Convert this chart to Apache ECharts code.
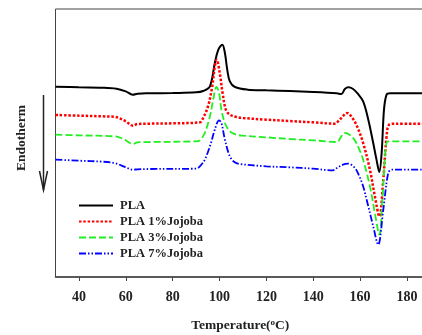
<!DOCTYPE html>
<html>
<head>
<meta charset="utf-8">
<script src="https://cdn.jsdelivr.net/npm/echarts@6/dist/echarts.min.js"></script>
<style>
  html, body { margin: 0; padding: 0; background: #fff; }
  #chart { width: 422px; height: 335px; }
</style>
</head>
<body>
<div id="chart"></div>
<script>
// DSC heating curves, [temperature, heat flow (arb. units, up = exo)]
const seriesNames = ['PLA', 'PLA 1%Jojoba', 'PLA 3%Jojoba', 'PLA 7%Jojoba']
const xTicks = [40, 60, 80, 100, 120, 140, 160, 180]

const pla = [
  [30, 571], [40, 569], [50, 568], [56, 565], [60, 557], [63, 547], [65, 550], [70, 551],
  [80, 552], [90, 554], [93, 558], [95.9, 572], [98, 642], [99.5, 682], [101.2, 697],
  [102.3, 672], [103.3, 622], [104.4, 587], [106.6, 570], [112, 562], [120, 560],
  [130, 558], [140, 555], [150, 551], [152, 549], [153.5, 564], [155, 569], [157, 564], [159, 550],
  [161.3, 527], [163.5, 472], [165.6, 402], [167, 352], [168.2, 315], [169.2, 373], [170.2, 502],
  [171.3, 547], [172.7, 551], [180, 551], [187.7, 551]
]
const pla1 = [
  [30, 486], [40, 484], [50, 482], [55, 481], [57, 477], [60, 467], [63, 454], [65, 459], [70, 460],
  [80, 461], [91.6, 464], [93, 477], [95.1, 512], [96.9, 572], [98, 632], [98.8, 652], [100.1, 612],
  [101.3, 552], [102.7, 502], [104.4, 487], [107.2, 480], [110, 477], [120, 472], [130, 468],
  [140, 464], [149.2, 460], [151.3, 472], [154.5, 492], [157, 474], [159, 447], [161.3, 402],
  [164.2, 322], [166.3, 242], [168.2, 182], [169.9, 292], [171.3, 422], [172.4, 457],
  [175, 460], [187.7, 460]
]
const pla3 = [
  [30, 427], [40, 425], [55, 422], [58, 417], [60, 410], [63, 399], [65, 404], [70, 405], [90, 407],
  [91.6, 410], [93.7, 432], [95.9, 482], [97.3, 532], [98.7, 570], [99.8, 552], [100.8, 502],
  [102.3, 462], [104.4, 437], [107.2, 427], [110, 424], [120, 419], [130, 414], [140, 410],
  [150.1, 405], [152, 422], [153.5, 432], [155.5, 427], [157.7, 410], [159.5, 385], [161.3, 352],
  [164.2, 272], [166.3, 192], [168.2, 127], [169.6, 242], [171, 392], [172, 407], [187.7, 407]
]
const pla7 = [
  [30, 352], [40, 349], [50, 346], [55, 342], [58, 335], [60, 329], [63, 322], [65, 323], [70, 324],
  [90, 325], [91.6, 332], [93.7, 352], [95.9, 392], [98, 442], [99.8, 470], [100.8, 462],
  [102.3, 412], [104.4, 362], [106.5, 344], [108.7, 339], [120, 332], [130, 329], [140, 325],
  [148.4, 320], [150.1, 327], [152.7, 337], [154.9, 340], [157.7, 328], [159.5, 305], [161.3, 272],
  [163.5, 212], [165.6, 152], [167.7, 97], [169.9, 202], [172, 312], [173.5, 322], [187.7, 322]
]

const serif = '"Liberation Serif", "Times New Roman", serif'

const line = (name, data, color, type, width) => ({
  name,
  type: 'line',
  data,
  symbol: 'none',
  smooth: 0.35,
  lineStyle: { color, type, width },
  itemStyle: { color }
})

const myChart = echarts.init(document.getElementById('chart'))
myChart.setOption({
  animation: false,
  grid: {
    left: 55.5, right: -3, top: 9, bottom: 58,
    outerBoundsMode: 'none',
    show: true, borderColor: '#444', borderWidth: 1
  },
  legend: {
    orient: 'vertical',
    left: 78, top: 199, padding: 0,
    itemWidth: 34, itemHeight: 12, itemGap: 3,
    itemStyle: { opacity: 0 },
    textStyle: { fontFamily: serif, fontWeight: 'bold', fontSize: 12.5, color: '#222', padding: [0, 0, 0, 2] },
    data: seriesNames
  },
  xAxis: {
    type: 'value',
    min: 30, max: 187.7,
    splitLine: { show: false },
    axisLine: { lineStyle: { color: '#444', width: 1.5 } },
    axisTick: { inside: false, length: 4, customValues: xTicks, lineStyle: { color: '#444' } },
    axisLabel: {
      customValues: xTicks, margin: 13,
      fontFamily: serif, fontWeight: 'bold', fontSize: 14, color: '#222'
    },
    name: 'Temperature({sup|o}C)',
    nameLocation: 'middle',
    nameGap: 41,
    nameTextStyle: {
      fontFamily: serif, fontWeight: 'bold', fontSize: 13.5, color: '#222',
      rich: { sup: { fontFamily: serif, fontWeight: 'bold', fontSize: 9, color: '#222', verticalAlign: 'top', padding: [0, 0, 6, 0] } }
    }
  },
  yAxis: {
    type: 'value',
    min: 0, max: 804,
    axisLine: { show: false },
    axisTick: { show: false },
    axisLabel: { show: false },
    splitLine: { show: false }
  },
  graphic: [
    {
      type: 'text', x: 22, y: 138, rotation: Math.PI / 2,
      style: { text: 'Endotherm', fontFamily: serif, fontWeight: 'bold', fontSize: 13.5, fill: '#222', align: 'center', verticalAlign: 'middle' }
    },
    {
      type: 'line', shape: { x1: 43.5, y1: 95, x2: 43.5, y2: 190 },
      style: { stroke: '#222', lineWidth: 1.5 }
    },
    {
      type: 'polyline', shape: { points: [[39.5, 171], [43.5, 190], [47.5, 171]] },
      style: { stroke: '#222', lineWidth: 1.5, fill: null }
    }
  ],
  series: [
    line(seriesNames[0], pla, '#000000', 'solid', 2),
    line(seriesNames[1], pla1, '#ff0000', [2.5, 1.8], 2.5),
    line(seriesNames[2], pla3, '#22ee22', [7, 3], 1.8),
    line(seriesNames[3], pla7, '#0000ff', [7, 2, 1.5, 2, 1.5, 2], 1.8)
  ]
})
</script>
</body>
</html>
